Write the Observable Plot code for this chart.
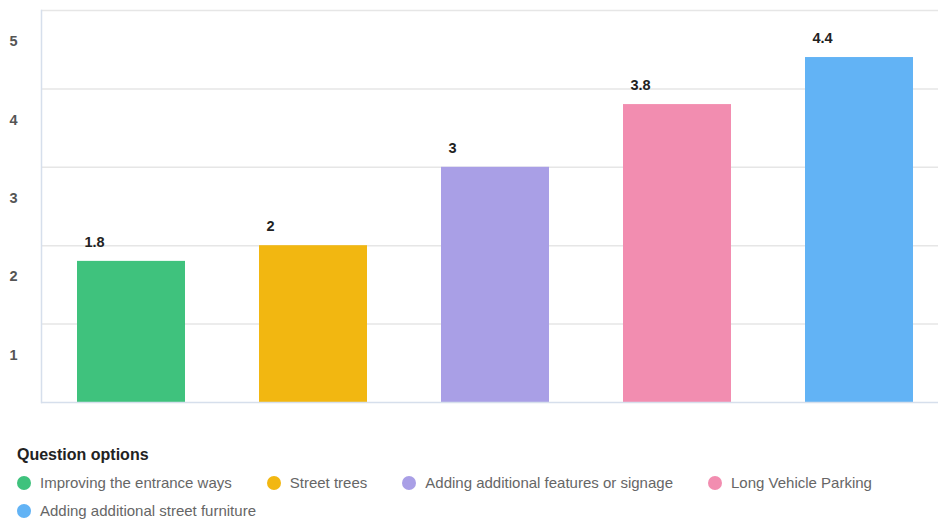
<!DOCTYPE html>
<html>
<head>
<meta charset="utf-8">
<script src="https://cdn.jsdelivr.net/npm/d3@7"></script>
<script src="https://cdn.jsdelivr.net/npm/@observablehq/plot@0.6"></script>
<style>
  html, body { margin: 0; padding: 0; background: #fff; }
  body { font-family: "Liberation Sans", Arial, Helvetica, sans-serif; width: 938px; }
  #legend { padding: 0 0 0 17px; margin-top: 31px; }
  #legend .title { font-weight: bold; font-size: 16px; color: #222; line-height: 18px; margin-bottom: 10px; }
  #legend .items { display: flex; flex-wrap: wrap; column-gap: 35px; row-gap: 10px; max-width: 910px; }
  #legend .item { display: flex; align-items: center; font-size: 15px; color: #666; line-height: 18px; }
  #legend .dot { width: 14px; height: 14px; border-radius: 50%; margin-right: 9px; }
</style>
</head>
<body>
<div id="chart"></div>
<div id="legend"></div>
<script>
const categories = ["Improving the entrance ways", "Street trees", "Adding additional features or signage", "Long Vehicle Parking", "Adding additional street furniture"];
const values = [1.8, 2, 3, 3.8, 4.4];
const colors = ["#3fc27d", "#f2b711", "#a99fe6", "#f28db0", "#62b3f5"];
const yTicks = [1, 2, 3, 4, 5];
const legendTitle = "Question options";

const data = categories.map((c, i) => ({category: c, value: values[i], color: colors[i]}));

const chart = Plot.plot({
  width: 938,
  height: 415,
  marginLeft: 41,
  marginRight: 0,
  marginTop: 10,
  marginBottom: 13,
  style: {fontFamily: "'Liberation Sans', Arial, sans-serif", background: "#fff"},
  x: {domain: categories, paddingInner: 0.405, paddingOuter: 0.165, align: 0.6, axis: null},
  y: {domain: [0, 5], axis: null},
  marks: [
    Plot.ruleY(yTicks, {stroke: "#e6e6e6", strokeWidth: 1.5}),
    Plot.axisY(yTicks, {tickSize: 0, tickPadding: 28, textAnchor: "middle", dy: 31, fontSize: 14.5, fill: "#555", fontWeight: "bold", tickFormat: "d", label: null}),
    Plot.barY(data, {x: "category", y: "value", fill: "color"}),
    Plot.frame({anchor: "left", stroke: "#d6dfec", strokeWidth: 1.5}),
    Plot.ruleY([0], {stroke: "#d6dfec", strokeWidth: 1.5}),
    Plot.text(data, {x: "category", y: "value", text: d => String(d.value), textAnchor: "start", dx: -47, dy: -19, fontSize: 14.5, fontWeight: "bold", fill: "#222"})
  ]
});
document.getElementById("chart").appendChild(chart);

const legend = document.getElementById("legend");
const t = document.createElement("div");
t.className = "title";
t.textContent = legendTitle;
legend.appendChild(t);
const items = document.createElement("div");
items.className = "items";
categories.forEach((c, i) => {
  const it = document.createElement("div");
  it.className = "item";
  const dot = document.createElement("span");
  dot.className = "dot";
  dot.style.background = colors[i];
  const lab = document.createElement("span");
  lab.textContent = c;
  it.appendChild(dot);
  it.appendChild(lab);
  items.appendChild(it);
});
legend.appendChild(items);
</script>
</body>
</html>
